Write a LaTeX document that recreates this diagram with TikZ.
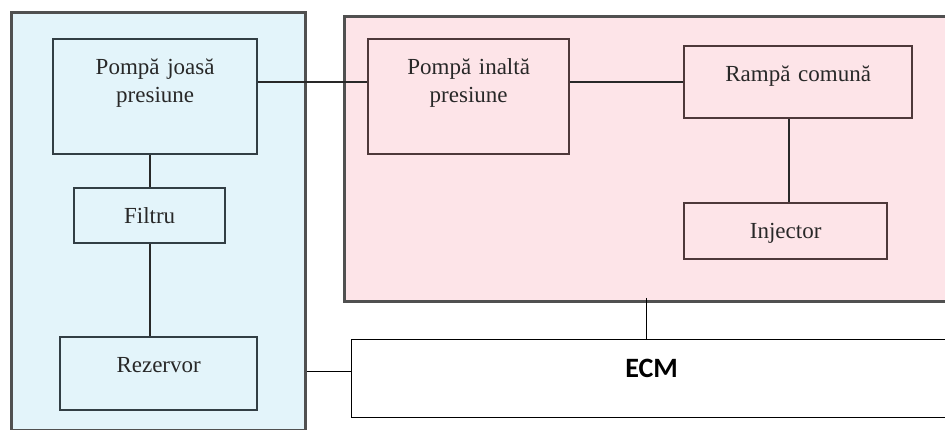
\documentclass[tikz,border=0pt]{standalone}
\usepackage{fontspec}
\setmainfont{Liberation Serif}
\newfontfamily\ecmfont{Carlito}
\usetikzlibrary{positioning}
\definecolor{lowfill}{RGB}{227,244,250}
\definecolor{highfill}{RGB}{253,228,232}
\definecolor{panelline}{RGB}{80,80,80}
\definecolor{lowline}{RGB}{50,62,68}
\definecolor{highline}{RGB}{78,56,58}
\definecolor{linkline}{RGB}{40,40,40}
\definecolor{parttext}{RGB}{40,40,40}

\begin{document}
\begin{tikzpicture}[x=1pt, y=-1pt,
  panel/.style={draw=panelline, line width=2.8pt, anchor=north west, inner sep=0pt},
  partbox/.style={draw, line width=2.3pt, anchor=north west, inner sep=0pt, align=center,
    text=parttext, font=\fontsize{23}{28}\selectfont, text height=35pt},
  link/.style={line width=2.2pt, draw=linkline},
  ecmlink/.style={line width=1.3pt, draw=black}]
\useasboundingbox (0,0) rectangle (945,430);
% Panels
\node[panel, fill=lowfill, minimum width=294pt, minimum height=418pt] (lowside) at (10,11) {};
\node[panel, fill=highfill, minimum width=604pt, minimum height=285pt] (highside) at (343,15) {};
% Low pressure side
\node[partbox, draw=lowline, fill=lowfill, text width=204pt, text depth=80pt] (lowpump) at (52,38) {Pompă joasă\\presiune};
\node[partbox, draw=lowline, fill=lowfill, text width=151pt, text depth=20pt] (filter) at (73,187) {Filtru};
\node[partbox, draw=lowline, fill=lowfill, text width=197pt, text depth=38pt] (tank) at (59,336) {Rezervor};
% High pressure side
\node[partbox, draw=highline, fill=highfill, text width=201pt, text depth=80pt] (highpump) at (367,38) {Pompă inaltă\\presiune};
\node[partbox, draw=highline, fill=highfill, text width=228pt, text depth=37pt] (rail) at (683,45) {Rampă comună};
\node[partbox, draw=highline, fill=highfill, text width=203pt, text depth=21pt] (injector) at (683,202) {Injector};
% Control unit
\node[draw=black, line width=1.3pt, fill=white, anchor=north west, inner sep=0pt, text width=600pt,
  align=center, text height=38pt, text depth=40pt, font=\ecmfont\bfseries\fontsize{28}{34}\selectfont] (ecm) at (351,339) {ECM};
% Lines
\draw[link] (filter.north) -- (filter.north |- lowpump.south);
\draw[link] (filter.south) -- (filter.south |- tank.north);
\draw[link] ([yshift=14.5pt]lowpump.east) -- ([yshift=14.5pt]lowpump.east -| highpump.west);
\draw[link] (rail.west) -- (rail.west -| highpump.east);
\draw[link] ([xshift=3pt]injector.north) -- ([xshift=3pt]injector.north |- rail.south);
\draw[ecmlink] ([yshift=5pt]highside.south) -- (highside.south |- ecm.north);
\draw[ecmlink] ([yshift=7pt]ecm.west) -- ([yshift=7pt]ecm.west -| lowside.east);
\end{tikzpicture}
\end{document}
